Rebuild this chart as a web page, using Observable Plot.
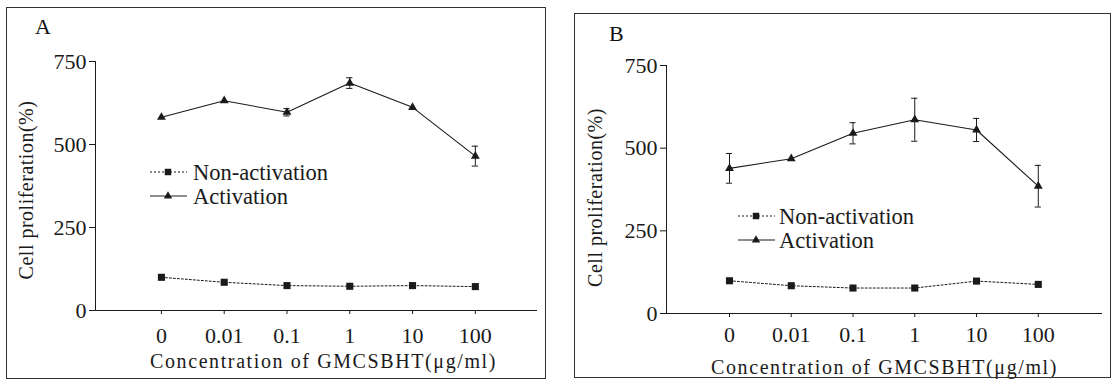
<!DOCTYPE html>
<html><head><meta charset="utf-8">
<script src="https://cdn.jsdelivr.net/npm/d3@7"></script>
<script src="https://cdn.jsdelivr.net/npm/@observablehq/plot@0.6"></script>
<style>
body{margin:0;background:#fff;width:1114px;height:385px;position:relative;overflow:hidden;font-family:"Liberation Serif","Times New Roman",serif;color:#111;}
.frame{position:absolute;border:1px solid #333;box-sizing:border-box;}
.chart{position:absolute;}
.plab{position:absolute;font-size:22px;line-height:22px;}
.legend{position:absolute;overflow:visible;}
</style></head><body>
<script>
// ---- data ----
const concentrations = ["0","0.01","0.1","1","10","100"];
const seriesNames = ["Non-activation","Activation"];
const yTicks = [0,250,500,750];
const panelLabels = ["A","B"];
const xTitle = "Concentration of GMCSBHT(μg/ml)";
const yTitle = "Cell proliferation(%)";
const nonActA = [100,85,75,73,75,72];
const actA    = [582,632,597,685,612,465];
const actErrA = [0,0,11,16,0,30];
const nonActB = [99,84,77,77,98,88];
const actB    = [439,468,545,586,555,385];
const actErrB = [45,0,32,65,35,63];

// ---- layout ----
const serif = "Liberation Serif, Times New Roman, serif";
const panels = [
  {label: panelLabels[0], nonAct: nonActA, act: actA, err: actErrA,
   frame: {left: 6, top: 7, width: 540, height: 372},
   ml: 89, mr: 9, mt: 54, mb: 69, xdom: [-1.05, 5.99], tp: 13, xdx: 7, xdy: 51, ydx: -69, ydy: 4,
   lab: {left: 35, top: 16},
   legend: {left: 150, top: 157, textX: 43}},
  {label: panelLabels[1], nonAct: nonActB, act: actB, err: actErrB,
   frame: {left: 574, top: 13, width: 537, height: 365},
   ml: 92, mr: 9, mt: 52, mb: 65, xdom: [-1.02, 6.04], tp: 9, xdx: 0, xdy: 54, ydx: -71, ydy: 8,
   lab: {left: 609, top: 23},
   legend: {left: 738, top: 201, textX: 41}}
];

function makePanel(p) {
  const rows = concentrations.map((c, i) => ({i, c, nonAct: p.nonAct[i], act: p.act[i], err: p.err[i]}));
  const errRows = rows.filter(d => d.err > 0);
  const ink = "#1a1a1a";
  const svg = Plot.plot({
    width: p.frame.width, height: p.frame.height,
    marginLeft: p.ml, marginRight: p.mr, marginTop: p.mt, marginBottom: p.mb,
    style: {fontFamily: serif, fontSize: "22px", color: ink, background: "transparent", overflow: "visible"},
    x: {domain: p.xdom},
    y: {domain: [0, 750]},
    marks: [
      Plot.ruleY([0], {stroke: ink, strokeWidth: 1.2}),
      Plot.ruleX([p.xdom[0]], {stroke: ink, strokeWidth: 1}),
      Plot.axisY({ticks: yTicks, tickSize: 6, tickPadding: 3, label: null, tickFormat: d => String(d)}),
      Plot.axisX({ticks: d3.range(concentrations.length), tickFormat: i => concentrations[i], tickSize: 4, tickPadding: p.tp, label: null}),
      Plot.line(rows, {x: "i", y: "nonAct", stroke: ink, strokeWidth: 1, strokeDasharray: "2,2"}),
      Plot.line(rows, {x: "i", y: "act", stroke: ink, strokeWidth: 1.1}),
      Plot.ruleX(errRows, {x: "i", y1: d => d.act - d.err, y2: d => d.act + d.err, stroke: ink, strokeWidth: 1}),
      Plot.ruleY(errRows, {y: d => d.act + d.err, x1: d => d.i - 0.05, x2: d => d.i + 0.05, stroke: ink, strokeWidth: 1}),
      Plot.ruleY(errRows, {y: d => d.act - d.err, x1: d => d.i - 0.05, x2: d => d.i + 0.05, stroke: ink, strokeWidth: 1}),
      Plot.dot(rows, {x: "i", y: "nonAct", symbol: "square", r: 4, fill: ink, stroke: "none"}),
      Plot.dot(rows, {x: "i", y: "act", symbol: "triangle", r: 3.3, fill: ink, stroke: "none"}),
      Plot.text([yTitle], {text: d => d, frameAnchor: "left", textAnchor: "middle", lineAnchor: "middle", rotate: -90, dx: p.ydx, dy: p.ydy, fontSize: 20, fill: ink}),
      Plot.text([xTitle], {text: d => d, frameAnchor: "bottom", textAnchor: "middle", lineAnchor: "middle", dx: p.xdx, dy: p.xdy, fontSize: 20, fill: ink})
    ]
  });
  d3.select(svg).selectAll("text").filter(function() { return this.textContent === xTitle; }).style("letter-spacing", "1.6px");
  d3.select(svg).selectAll("text").filter(function() { return this.textContent === yTitle; }).style("letter-spacing", "0.5px");
  const holder = document.createElement("div");
  holder.className = "chart";
  holder.style.left = p.frame.left + "px";
  holder.style.top = p.frame.top + "px";
  holder.appendChild(svg);
  document.body.appendChild(holder);

  const fr = document.createElement("div");
  fr.className = "frame";
  Object.assign(fr.style, {left: p.frame.left + "px", top: p.frame.top + "px", width: p.frame.width + "px", height: p.frame.height + "px"});
  document.body.appendChild(fr);

  const lab = document.createElement("div");
  lab.className = "plab";
  lab.textContent = p.label;
  lab.style.left = p.lab.left + "px";
  lab.style.top = p.lab.top + "px";
  document.body.appendChild(lab);

  // legend
  const lg = d3.select(document.body).append("svg").attr("class", "legend")
    .attr("width", 200).attr("height", 60)
    .style("left", p.legend.left + "px").style("top", p.legend.top + "px");
  seriesNames.forEach((name, k) => {
    const y = 15 + k * 24;
    lg.append("line").attr("x1", 0).attr("x2", 37).attr("y1", y).attr("y2", y)
      .attr("stroke", ink).attr("stroke-width", 1).attr("stroke-dasharray", k === 0 ? "2,2" : null);
    lg.append("path").attr("transform", `translate(18,${y})`)
      .attr("d", d3.symbol(k === 0 ? d3.symbolSquare : d3.symbolTriangle, k === 0 ? 42 : 30)())
      .attr("fill", ink);
    lg.append("text").attr("x", p.legend.textX).attr("y", y + 8)
      .attr("font-family", serif).attr("font-size", 22.5)
      .attr("fill", ink).text(name);
  });
}
panels.forEach(makePanel);
</script>
</body></html>
